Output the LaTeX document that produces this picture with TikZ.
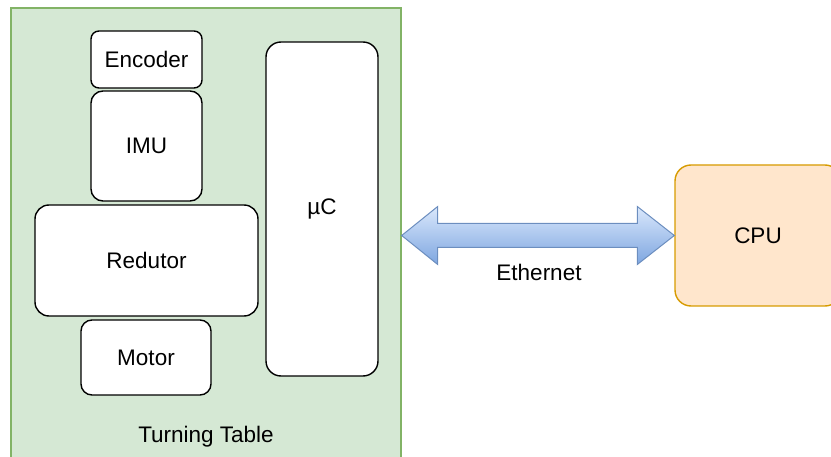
\documentclass[tikz,border=0pt]{standalone}
\usepackage{fontspec}
\setmainfont{Liberation Sans}
\usetikzlibrary{calc}
\definecolor{ttfill}{HTML}{D5E8D4}
\definecolor{ttline}{HTML}{82B366}
\definecolor{cpufill}{HTML}{FFE6CC}
\definecolor{cpuline}{HTML}{D79B00}
\definecolor{arrtop}{HTML}{DAE8FC}
\definecolor{arrbot}{HTML}{7EA6E0}
\definecolor{arrline}{HTML}{6C8EBF}
\tikzset{
  txt/.style={font=\fontsize{22.5}{26}\selectfont},
  blk/.style={draw=black, line width=1.4pt, fill=white, rounded corners=#1,
    inner sep=0pt, txt},
  lbl/.style={inner sep=0pt, txt},
}
\begin{document}
\begin{tikzpicture}[x=1pt, y=-1pt]
\useasboundingbox (0,0) rectangle (831,457);
\clip (0,0) rectangle (831,457);
% container
\node[draw=ttline, line width=1.4pt, fill=ttfill, inner sep=0pt,
  minimum width=390pt, minimum height=470pt] (tt) at (206,243) {};
\node[lbl] (ttl) at (206,437) {Turning Table};
% inner blocks
\node[blk=8pt, minimum width=111pt, minimum height=57pt] (enc) at (146.5,59.5) {Encoder};
\node[blk=12pt, minimum width=111pt, minimum height=110pt] (imu) at (146.5,146) {IMU};
\node[blk=14pt, minimum width=223pt, minimum height=111pt] (red) at (146.5,260.5) {Redutor};
\node[blk=11pt, minimum width=130pt, minimum height=75pt] (mot) at (146,357.5) {Motor};
\node[blk=15pt, minimum width=112pt, minimum height=334pt] (uc) at (322,209) {µC};
% host
\node[draw=cpuline, line width=1.4pt, fill=cpufill, rounded corners=16pt, inner sep=0pt,
  minimum width=166pt, minimum height=141pt, txt] (cpu) at (758,235.5) {CPU};
% double-headed link
\coordinate (L) at (tt.east |- cpu.west);
\coordinate (R) at (cpu.west);
\path[draw=arrline, line width=1pt, top color=arrtop, bottom color=arrbot, line join=miter]
  (L) -- ($(L)+(36,-29)$) -- ($(L)+(36,-12)$) -- ($(R)+(-37,-12)$) -- ($(R)+(-37,-29)$)
  -- (R) -- ($(R)+(-37,29)$) -- ($(R)+(-37,12)$) -- ($(L)+(36,12)$) -- ($(L)+(36,29)$) -- cycle;
\node[lbl] (eth) at (539,272) {Ethernet};
\end{tikzpicture}
\end{document}
